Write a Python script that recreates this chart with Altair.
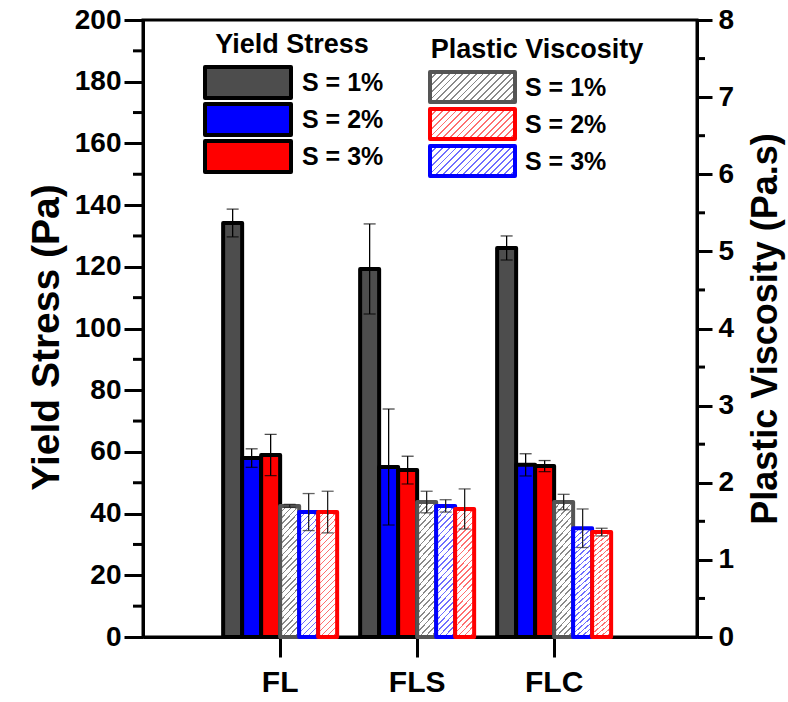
import altair as alt
import pandas as pd

# ---------------- data ----------------
categories = ["FL", "FLS", "FLC"]

# Yield stress (Pa), left axis
ys_s1 = [134.2, 119.3, 126.1]
ys_s2 = [58.0, 55.1, 55.8]
ys_s3 = [59.0, 54.1, 55.4]
ys_s1_err = [4.5, 14.6, 3.9]
ys_s2_err = [3.0, 18.8, 3.6]
ys_s3_err = [6.7, 4.5, 1.8]

# Plastic viscosity (Pa.s), right axis; bars drawn gray, blue, red
pv_gray = [1.70, 1.75, 1.75]
pv_blue = [1.62, 1.70, 1.41]
pv_red = [1.62, 1.66, 1.36]
pv_gray_err = [0.02, 0.14, 0.10]
pv_blue_err = [0.24, 0.08, 0.25]
pv_red_err = [0.27, 0.26, 0.05]

ys_ticks = list(range(0, 201, 20))
ys_minor = list(range(10, 200, 20))
pv_ticks = list(range(0, 9))
pv_minor = [0.5 + i for i in range(8)]

ys_legend_labels = ["S = 1%", "S = 2%", "S = 3%"]
pv_legend_labels = ["S = 1%", "S = 2%", "S = 3%"]

# ---------------- style ----------------
FONT = "Liberation Sans"
W, H = 554, 617
DARK = "#4d4d4d"
BLUE = "#0000ff"
RED = "#ff0000"
GRAY_EDGE = "#555555"

slots = ["ys1", "ys2", "ys3", "pv1", "pv2", "pv3"]
ys_fills = [DARK, BLUE, RED]
pv_edges = [GRAY_EDGE, BLUE, RED]
pv_lines = ["#8a8a8a", "#6f6fff", "#ff7070"]


def hatch(line_color, n, ratio, frac=0.27):
    """Diagonal '/' stripes from a hard-stop linear gradient.

    ratio is the width/height of the filled box; the gradient vector is
    scaled so the far corner of the box lands on offset 1.
    """
    b = (ratio + 1) / (ratio * ratio + 1)
    a = ratio * b
    stops = []
    for i in range(n):
        s = i / n
        m = (i + frac) / n
        e = (i + 1) / n
        stops += [
            alt.GradientStop(color=line_color, offset=round(s, 5)),
            alt.GradientStop(color=line_color, offset=round(m, 5)),
            alt.GradientStop(color="white", offset=round(m, 5)),
            alt.GradientStop(color="white", offset=round(e, 5)),
        ]
    return alt.LinearGradient(gradient="linear", stops=stops, x1=0, y1=0, x2=round(a, 4), y2=round(b, 4))


ys_rows = []
for s, (vals, errs) in enumerate(zip([ys_s1, ys_s2, ys_s3], [ys_s1_err, ys_s2_err, ys_s3_err])):
    for c, v, e in zip(categories, vals, errs):
        ys_rows.append(dict(cat=c, slot=slots[s], value=v, lo=v - e, hi=v + e, fill=ys_fills[s]))
ys_df = pd.DataFrame(ys_rows)

pv_rows = []
for s, (vals, errs) in enumerate(zip([pv_gray, pv_blue, pv_red], [pv_gray_err, pv_blue_err, pv_red_err])):
    for c, v, e in zip(categories, vals, errs):
        pv_rows.append(dict(cat=c, slot=slots[3 + s], value=v, lo=v - e, hi=v + e))
pv_df = pd.DataFrame(pv_rows)

x_enc = alt.X(
    "cat:N",
    sort=categories,
    scale=alt.Scale(domain=categories, paddingInner=0, paddingOuter=0.522, align=0.48),
    axis=alt.Axis(
        title=None, labelAngle=0, labelFont=FONT, labelFontSize=30, labelFontWeight="bold",
        labelColor="black", tickSize=20, tickWidth=3, tickColor="black",
        domainWidth=3, domainColor="black", labelPadding=10, bandPosition=0.5,
    ),
)
xo_enc = alt.XOffset("slot:N", scale=alt.Scale(domain=slots, paddingInner=0, paddingOuter=0.605))

ys_scale = alt.Scale(domain=[0, 200], nice=False, zero=True)
pv_scale = alt.Scale(domain=[0, 8], nice=False, zero=True)

ys_axis = alt.Axis(
    orient="left", values=ys_ticks, title="Yield Stress (Pa)", grid=False,
    labelFont=FONT, labelFontSize=28, labelFontWeight="bold", labelColor="black", labelPadding=3,
    tickSize=19, tickWidth=3, tickColor="black", domainWidth=3, domainColor="black",
    titleFont=FONT, titleFontSize=39, titleFontWeight="bold", titleColor="black",
    titleAngle=270, titleX=-97, titleY=317, titleAlign="center", titleBaseline="middle",
)
pv_axis = alt.Axis(
    orient="right", values=pv_ticks, title="Plastic Viscosity (Pa.s)", grid=False,
    labelFont=FONT, labelFontSize=28, labelFontWeight="bold", labelColor="black", labelPadding=6,
    tickSize=15, tickWidth=3, tickColor="black", domainWidth=3, domainColor="black",
    titleFont=FONT, titleFontSize=36, titleFontWeight="bold", titleColor="black",
    titleAngle=270, titleX=68, titleY=H / 2, titleAlign="center", titleBaseline="middle",
)

# ---------------- yield stress group ----------------
ys_base = alt.Chart(ys_df)
ys_bars = ys_base.mark_bar(stroke="black", strokeWidth=4, strokeJoin="round").encode(
    x=x_enc, xOffset=xo_enc,
    y=alt.Y("value:Q", scale=ys_scale, axis=ys_axis),
    fill=alt.Fill("fill:N", scale=None),
)
ys_err = ys_base.mark_rule(color="black", strokeWidth=1.3).encode(
    x=x_enc, xOffset=xo_enc,
    y=alt.Y("lo:Q", scale=ys_scale, axis=ys_axis), y2="hi:Q",
)
ys_cap_hi = ys_base.mark_tick(color="black", thickness=1.3, size=12, orient="horizontal").encode(
    x=x_enc, xOffset=xo_enc, y=alt.Y("hi:Q", scale=ys_scale, axis=ys_axis),
)
ys_cap_lo = ys_base.mark_tick(color="black", thickness=1.3, size=12, orient="horizontal").encode(
    x=x_enc, xOffset=xo_enc, y=alt.Y("lo:Q", scale=ys_scale, axis=ys_axis),
)
ys_minor_ticks = alt.Chart(pd.DataFrame({"v": ys_minor})).mark_rule(color="black", strokeWidth=3).encode(
    y=alt.Y("v:Q", scale=ys_scale, axis=ys_axis), x=alt.value(-10), x2=alt.value(0),
)
ys_group = alt.layer(ys_minor_ticks, ys_bars, ys_err, ys_cap_hi, ys_cap_lo)

# ---------------- plastic viscosity group ----------------
pv_layers = []
for k in range(3):
    sub = alt.Chart(pv_df).transform_filter(alt.datum.slot == slots[3 + k])
    pv_layers.append(
        sub.mark_bar(
            fill=hatch(pv_lines[k], 24, 19 / 123), stroke=pv_edges[k], strokeWidth=4, strokeJoin="round",
        ).encode(x=x_enc, xOffset=xo_enc, y=alt.Y("value:Q", scale=pv_scale, axis=pv_axis))
    )
pv_base = alt.Chart(pv_df)
pv_err = pv_base.mark_rule(color="#222222", strokeWidth=1.3).encode(
    x=x_enc, xOffset=xo_enc,
    y=alt.Y("lo:Q", scale=pv_scale, axis=pv_axis), y2="hi:Q",
)
pv_cap_hi = pv_base.mark_tick(color="#222222", thickness=1.3, size=12, orient="horizontal").encode(
    x=x_enc, xOffset=xo_enc, y=alt.Y("hi:Q", scale=pv_scale, axis=pv_axis),
)
pv_cap_lo = pv_base.mark_tick(color="#222222", thickness=1.3, size=12, orient="horizontal").encode(
    x=x_enc, xOffset=xo_enc, y=alt.Y("lo:Q", scale=pv_scale, axis=pv_axis),
)
pv_minor_ticks = alt.Chart(pd.DataFrame({"v": pv_minor})).mark_rule(color="black", strokeWidth=3).encode(
    y=alt.Y("v:Q", scale=pv_scale, axis=pv_axis), x=alt.value(W), x2=alt.value(W + 8),
)
pv_group = alt.layer(pv_minor_ticks, *pv_layers, pv_err, pv_cap_hi, pv_cap_lo)

# ---------------- legends (pixel layout inside the plot area) ----------------
ROW = 37
ys_leg = pd.DataFrame({
    "label": ys_legend_labels,
    "fill": ys_fills,
    "top": [47 + ROW * i for i in range(3)],
})
ys_leg["bottom"] = ys_leg["top"] + 31
ys_leg["mid"] = ys_leg["top"] + 16

ys_leg_boxes = alt.Chart(ys_leg).mark_rect(stroke="black", strokeWidth=4, strokeJoin="round").encode(
    x=alt.value(62), x2=alt.value(148),
    y=alt.Y("top:Q", scale=None), y2="bottom:Q",
    fill=alt.Fill("fill:N", scale=None),
)
ys_leg_text = alt.Chart(ys_leg).mark_text(
    align="left", baseline="middle", font=FONT, fontSize=25, fontWeight="bold", color="black",
).encode(x=alt.value(159), y=alt.Y("mid:Q", scale=None), text="label:N")
ys_leg_title = alt.Chart(pd.DataFrame({"t": ["Yield Stress"]})).mark_text(
    align="center", baseline="middle", font=FONT, fontSize=27, fontWeight="bold", color="black",
).encode(x=alt.value(149), y=alt.value(25), text="t:N")

pv_leg_layers = []
for i, lab in enumerate(pv_legend_labels):
    top = 52 + ROW * i
    # legend order: gray, red, blue
    k = [0, 2, 1][i]
    pv_leg_layers.append(
        alt.Chart(pd.DataFrame({"label": [lab]})).mark_rect(
            fill=hatch(pv_lines[k], 17, 85 / 30), stroke=pv_edges[k], strokeWidth=4, strokeJoin="round",
        ).encode(x=alt.value(287), x2=alt.value(372), y=alt.value(top), y2=alt.value(top + 30))
    )
pv_leg = pd.DataFrame({"label": pv_legend_labels, "mid": [68 + ROW * i for i in range(3)]})
pv_leg_text = alt.Chart(pv_leg).mark_text(
    align="left", baseline="middle", font=FONT, fontSize=25, fontWeight="bold", color="black",
).encode(x=alt.value(382), y=alt.Y("mid:Q", scale=None), text="label:N")
pv_leg_title = alt.Chart(pd.DataFrame({"t": ["Plastic Viscosity"]})).mark_text(
    align="center", baseline="middle", font=FONT, fontSize=27, fontWeight="bold", color="black",
).encode(x=alt.value(394), y=alt.value(30), text="t:N")

chart = alt.layer(
    ys_group, pv_group,
    ys_leg_boxes, ys_leg_text, ys_leg_title,
    *pv_leg_layers, pv_leg_text, pv_leg_title,
).resolve_scale(
    y="independent"
).properties(
    width=W, height=H,
    autosize=alt.AutoSizeParams(type="none"),
    padding={"left": 143, "top": 20, "right": 91, "bottom": 65},
    background="white",
).configure_view(
    stroke="black", strokeWidth=3,
)

chart.save("out.html", embed_options={"renderer": "svg", "actions": False})
